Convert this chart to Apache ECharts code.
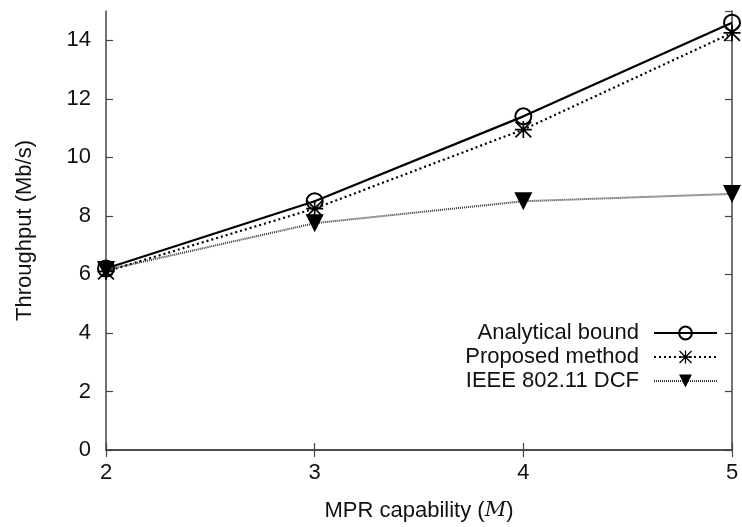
<!DOCTYPE html>
<html>
<head>
<meta charset="utf-8">
<script src="https://cdn.jsdelivr.net/npm/echarts@6/dist/echarts.min.js"></script>
<style>
  html, body { margin: 0; padding: 0; background: #fff; }
  #chart { width: 742px; height: 527px; }
</style>
</head>
<body>
<div id="chart"></div>
<script>
// MPR capability on x, throughput (Mb/s) on y
const mValues = [2, 3, 4, 5];
const analytical = [6.2, 8.5, 11.4, 14.6];
const proposed = [6.1, 8.25, 10.95, 14.25];
const dcf = [6.15, 7.75, 8.5, 8.75];
const seriesNames = ['Analytical bound', 'Proposed method', 'IEEE 802.11 DCF'];

const font = 'Liberation Sans, Arial, sans-serif';
// asterisk built from four thin bars (gnuplot point type 3)
const asterisk = 'path://M0 9L20 9L20 11L0 11Z M9 0L11 0L11 20L9 20Z M1.4 0L20 18.6L18.6 20L0 1.4Z M18.6 0L20 1.4L1.4 20L0 18.6Z';

function pairs(ys) {
  return mValues.map((m, i) => [m, ys[i]]);
}

const chart = echarts.init(document.getElementById('chart'));

const frameLine = { show: true, lineStyle: { color: '#444', width: 1.5 } };
const innerTick = { show: true, inside: true, length: 7, lineStyle: { color: '#444', width: 1.2 } };

const option = {
  animation: false,
  backgroundColor: '#fff',
  textStyle: { fontFamily: font },
  grid: { left: 106, right: 10, top: 11, bottom: 77, show: false },
  xAxis: [
    {
      type: 'value', min: 2, max: 5, interval: 1,
      name: 'MPR capability ({i|M})',
      nameLocation: 'middle', nameGap: 50,
      nameTextStyle: {
        fontSize: 22, color: '#111', fontFamily: font,
        rich: { i: { fontStyle: 'italic', fontFamily: 'DejaVu Serif, serif', fontSize: 21, color: '#111' } }
      },
      axisLine: frameLine, axisTick: innerTick, splitLine: { show: false },
      axisLabel: { fontSize: 22, color: '#111', margin: 12 }
    },
    {
      type: 'value', min: 2, max: 5, interval: 1, position: 'top',
      axisLine: frameLine, axisTick: innerTick, splitLine: { show: false },
      axisLabel: { show: false }
    }
  ],
  yAxis: [
    {
      type: 'value', min: 0, max: 15, interval: 2,
      name: 'Throughput (Mb/s)',
      nameLocation: 'middle', nameGap: 70,
      nameTextStyle: { fontSize: 22, color: '#111', fontFamily: font },
      axisLine: frameLine, axisTick: innerTick, splitLine: { show: false },
      axisLabel: { fontSize: 22, color: '#111', margin: 15, showMaxLabel: false }
    },
    {
      type: 'value', min: 0, max: 15, interval: 2, position: 'right',
      axisLine: frameLine, axisTick: innerTick, splitLine: { show: false },
      axisLabel: { show: false }
    }
  ],
  legend: {
    data: seriesNames,
    orient: 'vertical',
    align: 'right',
    right: 24,
    top: 322,
    padding: 0,
    itemWidth: 63,
    itemHeight: 16,
    itemGap: 2,
    textStyle: { fontSize: 22, color: '#111', fontFamily: font, padding: [0, 10, 0, 0] }
  },
  series: [
    {
      name: seriesNames[0],
      type: 'line',
      data: pairs(analytical),
      symbol: 'circle', symbolSize: 16,
      itemStyle: { color: 'transparent', borderColor: '#000', borderWidth: 2 },
      lineStyle: { color: '#000', width: 2.2 }
    },
    {
      name: seriesNames[1],
      type: 'line',
      data: pairs(proposed),
      symbol: asterisk, symbolSize: 17,
      itemStyle: { color: '#000' },
      lineStyle: { color: '#000', width: 2.2, type: [2, 3] }
    },
    {
      name: seriesNames[2],
      type: 'line',
      data: pairs(dcf),
      symbol: 'triangle', symbolRotate: 180, symbolSize: 18,
      itemStyle: { color: '#000' },
      lineStyle: { color: '#333', width: 2, type: [1, 1] }
    }
  ]
};

chart.setOption(option);
</script>
</body>
</html>
